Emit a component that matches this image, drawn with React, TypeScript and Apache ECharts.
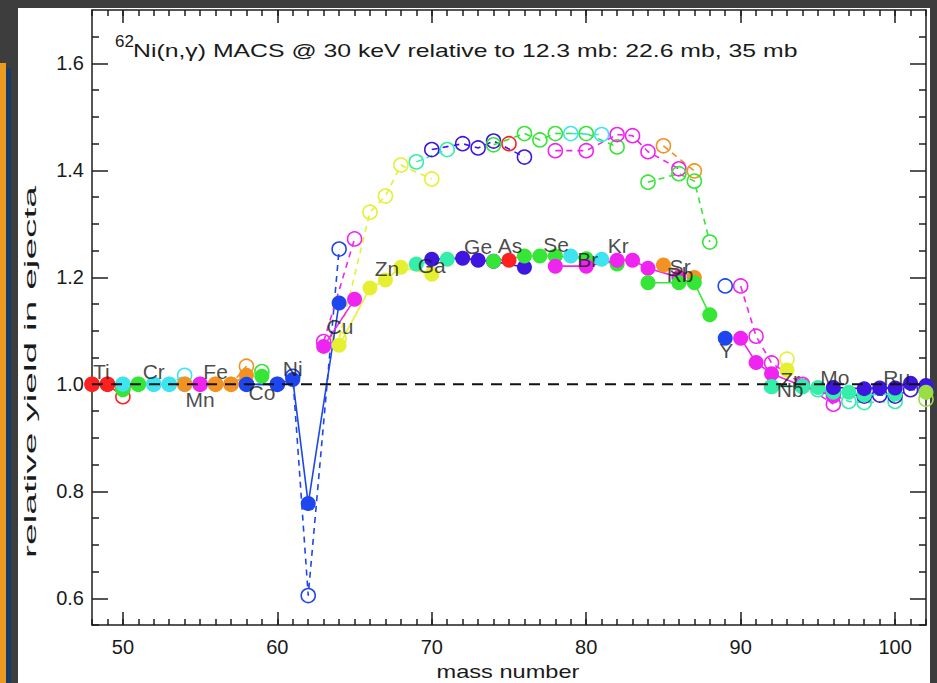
import React, { useEffect, useRef } from "react";
import * as echarts from "echarts";

// ---------- data ----------
const X_RANGE = [48, 102];
const Y_RANGE = [0.55, 1.7];
const X_MAJOR = [50, 60, 70, 80, 90, 100];
const Y_MAJOR = [0.6, 0.8, 1.0, 1.2, 1.4, 1.6];
const Y_MINOR = [0.55, 0.65, 0.7, 0.75, 0.85, 0.9, 0.95, 1.05, 1.1, 1.15, 1.25, 1.3, 1.35, 1.45, 1.5, 1.55, 1.65];
const BASELINE = 1.0;

const TITLE_MASS = "62";
const TITLE_TEXT = "Ni(n,\u03b3) MACS @ 30 keV relative to 12.3 mb: 22.6 mb, 35 mb";
const X_NAME = "mass number";
const Y_NAME = "relative yield in ejecta";

const ELEMENTS = ["Ti", "V", "Cr", "Mn", "Fe", "Co", "Ni", "Cu", "Zn", "Ga", "Ge", "As", "Se", "Br", "Kr", "Rb", "Sr", "Y", "Zr", "Nb", "Mo", "Ru", "Pd"];

const RED = "#ff2020";
const GREEN = "#36e636";
const CYAN = "#3ee4f0";
const MAGENTA = "#f024f0";
const ORANGE = "#f29222";
const BLUE = "#1e46ee";
const YELLOW = "#e6f032";
const AQUA = "#34eeaa";
const INDIGO = "#3e16e0";
const LIME = "#9ade44";

const ELEMENT_COLORS = [RED, GREEN, CYAN, MAGENTA, ORANGE, GREEN, BLUE, MAGENTA, YELLOW, AQUA, INDIGO, RED, GREEN, CYAN, MAGENTA, ORANGE, GREEN, BLUE, MAGENTA, YELLOW, AQUA, INDIGO, LIME];

const ISOTOPE_MASSES = [
  [48, 49, 50],
  [50, 51],
  [50, 52, 53, 54],
  [55],
  [54, 56, 57, 58],
  [59],
  [58, 60, 61, 62, 64],
  [63, 65],
  [64, 66, 67, 68, 70],
  [69, 71],
  [70, 72, 73, 74, 76],
  [75],
  [74, 76, 77, 78, 80, 82],
  [79, 81],
  [78, 80, 82, 83, 84, 86],
  [85, 87],
  [84, 86, 87, 88],
  [89],
  [90, 91, 92, 94, 96],
  [93],
  [92, 94, 95, 96, 97, 98, 100],
  [96, 98, 99, 100, 101, 102],
  [102, 104],
];

// filled symbols, solid lines: 22.6 mb
const YIELD_22_6MB = [
  [1.0, 1.0, 0.997],
  [0.99, 1.0],
  [1.0, 1.0, 1.0, 1.0],
  [1.0],
  [1.0, 1.0, 1.0, 1.017],
  [1.015],
  [1.0, 1.0, 1.009, 0.777, 1.152],
  [1.071, 1.159],
  [1.073, 1.18, 1.195, 1.219, 1.206],
  [1.225, 1.234],
  [1.234, 1.236, 1.232, 1.23, 1.219],
  [1.232],
  [1.23, 1.24, 1.24, 1.24, 1.235, 1.225],
  [1.24, 1.234],
  [1.221, 1.221, 1.232, 1.232, 1.217, 1.2],
  [1.223, 1.2],
  [1.19, 1.19, 1.19, 1.13],
  [1.086],
  [1.086, 1.041, 1.02, 0.997, 0.978],
  [1.027],
  [0.996, 0.996, 0.994, 0.985, 0.985, 0.98, 0.982],
  [0.994, 0.992, 0.993, 0.993, 1.002, 0.998],
  [0.985, 0.98],
];

// open symbols, dashed lines: 35 mb
const YIELD_35MB = [
  [1.0, 1.0, 0.977],
  [0.992, 1.0],
  [1.0, 1.0, 1.0, 1.017],
  [1.0],
  [1.0, 1.0, 1.0, 1.034],
  [1.024],
  [1.0, 1.0, 1.015, 0.605, 1.253],
  [1.08, 1.272],
  [1.085, 1.322, 1.352, 1.41, 1.384],
  [1.416, 1.439],
  [1.439, 1.45, 1.442, 1.455, 1.425],
  [1.45],
  [1.448, 1.469, 1.457, 1.469, 1.469, 1.444],
  [1.469, 1.467],
  [1.437, 1.437, 1.467, 1.465, 1.435, 1.403],
  [1.446, 1.399],
  [1.378, 1.394, 1.38, 1.266],
  [1.184],
  [1.184, 1.09, 1.04, 1.0, 0.963],
  [1.047],
  [0.996, 0.996, 0.99, 0.981, 0.968, 0.966, 0.968],
  [0.985, 0.978, 0.98, 0.978, 0.99, 0.99],
  [0.972, 0.97],
];

const LABEL_NAMES = ["Ti", "Cr", "Mn", "Fe", "Co", "Ni", "Cu", "Zn", "Ga", "Ge", "As", "Se", "Br", "Kr", "Sr", "Rb", "Y", "Zr", "Nb", "Mo", "Ru"];
const LABEL_MASS = [48.6, 52.0, 55.0, 56.0, 59.0, 61.0, 64.06, 67.1, 70.0, 73.0, 75.07, 78.05, 80.1, 82.07, 86.08, 86.08, 89.06, 93.2, 93.2, 96.1, 100.1];
const LABEL_YIELD = [1.024, 1.024, 0.972, 1.024, 0.985, 1.03, 1.109, 1.216, 1.223, 1.257, 1.259, 1.262, 1.234, 1.259, 1.221, 1.206, 1.064, 1.01, 0.99, 1.013, 1.013];

// ---------- style ----------
const FONT = "'Liberation Sans', Arial, Helvetica, sans-serif";
const AXIS = "#1e1e1e";
const TEXT = "#1a1a1a";

function measure(text: string, size: number): number {
  const ctx = document.createElement("canvas").getContext("2d");
  if (!ctx) return text.length * size * 0.5;
  ctx.font = `${size}px 'Liberation Sans', Arial, sans-serif`;
  return ctx.measureText(text).width;
}

export default function App() {
  const ref = useRef<HTMLDivElement>(null);

  useEffect(() => {
    if (!ref.current) return;
    const chart = echarts.init(ref.current, undefined, { renderer: "svg" });

    const xMinor: number[] = [];
    for (let m = Math.ceil(X_RANGE[0]); m <= X_RANGE[1]; m++) xMinor.push(m);

    const series: any[] = [];
    ELEMENTS.forEach((el, i) => {
      const color = ELEMENT_COLORS[i];
      const masses = ISOTOPE_MASSES[i];
      series.push({
        type: "line",
        name: el + " 35 mb",
        data: masses.map((m, j) => [m, YIELD_35MB[i][j]]),
        symbol: "circle",
        symbolSize: 14,
        showAllSymbol: true,
        itemStyle: { color: "rgba(255,255,255,0)", borderColor: color, borderWidth: 1.6 },
        lineStyle: { color, width: 1.6, type: [6, 5] },
        emphasis: { disabled: true },
        silent: true,
        z: 3,
      });
      series.push({
        type: "line",
        name: el + " 22.6 mb",
        data: masses.map((m, j) => [m, YIELD_22_6MB[i][j]]),
        symbol: "circle",
        symbolSize: 15,
        showAllSymbol: true,
        itemStyle: { color, borderWidth: 0 },
        lineStyle: { color, width: 1.6 },
        emphasis: { disabled: true },
        silent: true,
        z: 4,
      });
    });

    series.push({
      type: "line",
      name: "baseline",
      data: [[X_RANGE[0], BASELINE], [X_RANGE[1], BASELINE]],
      symbol: "none",
      lineStyle: { color: "#111", width: 2, type: [11, 8] },
      emphasis: { disabled: true },
      silent: true,
      z: 5,
    });

    series.push({
      type: "scatter",
      name: "labels",
      data: LABEL_NAMES.map((n, i) => ({ name: n, value: [LABEL_MASS[i], LABEL_YIELD[i]] })),
      symbolSize: 1,
      itemStyle: { color: "rgba(0,0,0,0)" },
      label: {
        show: true,
        position: "inside",
        formatter: "{b}",
        fontSize: 21,
        fontFamily: FONT,
        color: TEXT,
      },
      emphasis: { disabled: true },
      silent: true,
      z: 6,
    });

    const titleSize = 19;
    const titleScale = 665 / measure(TITLE_TEXT, titleSize);
    const xNameSize = 18;
    const xNameScale = 143 / measure(X_NAME, xNameSize);
    const yNameSize = 17;
    const yNameScale = 372 / measure(Y_NAME, yNameSize);

    const xAxisBase = {
      type: "value",
      min: X_RANGE[0],
      max: X_RANGE[1],
      splitLine: { show: false },
    };
    const yAxisBase = {
      type: "value",
      min: Y_RANGE[0],
      max: Y_RANGE[1],
      splitLine: { show: false },
    };
    const lineS = { color: AXIS, width: 1.5 };

    chart.setOption({
      animation: false,
      backgroundColor: "#3d3d3d",
      grid: { left: 92, right: 11, top: 10, bottom: 58, containLabel: false },
      xAxis: [
        {
          ...xAxisBase,
          position: "bottom",
          axisLine: { show: true, onZero: false, lineStyle: lineS },
          axisTick: { show: true, inside: true, length: 13, customValues: X_MAJOR, lineStyle: lineS },
          axisLabel: { show: true, customValues: X_MAJOR, fontSize: 20, fontFamily: FONT, color: TEXT, margin: 12 },
        },
        {
          ...xAxisBase,
          position: "bottom",
          axisLine: { show: false, onZero: false },
          axisTick: { show: true, inside: true, length: 6, customValues: xMinor, lineStyle: lineS },
          axisLabel: { show: false },
        },
        {
          ...xAxisBase,
          position: "top",
          axisLine: { show: true, onZero: false, lineStyle: lineS },
          axisTick: { show: true, inside: true, length: 13, customValues: X_MAJOR, lineStyle: lineS },
          axisLabel: { show: false },
        },
        {
          ...xAxisBase,
          position: "top",
          axisLine: { show: false, onZero: false },
          axisTick: { show: true, inside: true, length: 6, customValues: xMinor, lineStyle: lineS },
          axisLabel: { show: false },
        },
      ],
      yAxis: [
        {
          ...yAxisBase,
          position: "left",
          axisLine: { show: true, onZero: false, lineStyle: lineS },
          axisTick: { show: true, inside: true, length: 16, customValues: Y_MAJOR, lineStyle: lineS },
          axisLabel: {
            show: true,
            customValues: Y_MAJOR,
            fontSize: 20,
            fontFamily: FONT,
            color: TEXT,
            margin: 8,
            formatter: (v: number) => v.toFixed(1),
          },
        },
        {
          ...yAxisBase,
          position: "left",
          axisLine: { show: false, onZero: false },
          axisTick: { show: true, inside: true, length: 7, customValues: Y_MINOR, lineStyle: lineS },
          axisLabel: { show: false },
        },
        {
          ...yAxisBase,
          position: "right",
          axisLine: { show: true, onZero: false, lineStyle: lineS },
          axisTick: { show: true, inside: true, length: 16, customValues: Y_MAJOR, lineStyle: lineS },
          axisLabel: { show: false },
        },
        {
          ...yAxisBase,
          position: "right",
          axisLine: { show: false, onZero: false },
          axisTick: { show: true, inside: true, length: 7, customValues: Y_MINOR, lineStyle: lineS },
          axisLabel: { show: false },
        },
      ],
      graphic: [
        { type: "rect", z: -10, silent: true, shape: { x: 18, y: 8, width: 912, height: 680 }, style: { fill: "#ffffff" } },
        { type: "rect", z: -10, silent: true, shape: { x: 0, y: 63, width: 6, height: 630 }, style: { fill: "#ec9a20" } },
        { type: "rect", z: -10, silent: true, shape: { x: 6, y: 68, width: 5, height: 630 }, style: { fill: "#173a66" } },
        {
          type: "text",
          z: 10,
          silent: true,
          x: 115,
          y: 41,
          style: { text: TITLE_MASS, fontSize: 17, fontFamily: FONT, fill: TEXT, align: "left", verticalAlign: "middle", textAlign: "left", textVerticalAlign: "middle" },
        },
        {
          type: "text",
          z: 10,
          silent: true,
          x: 133,
          y: 51,
          scaleX: titleScale,
          style: { text: TITLE_TEXT, fontSize: titleSize, fontFamily: FONT, fill: TEXT, align: "left", verticalAlign: "middle", textAlign: "left", textVerticalAlign: "middle" },
        },
        {
          type: "text",
          z: 10,
          silent: true,
          x: 508,
          y: 672,
          scaleX: xNameScale,
          style: { text: X_NAME, fontSize: xNameSize, fontFamily: FONT, fill: TEXT, align: "center", verticalAlign: "middle", textAlign: "center", textVerticalAlign: "middle" },
        },
        {
          type: "text",
          z: 10,
          silent: true,
          x: 30,
          y: 372,
          rotation: Math.PI / 2,
          scaleX: yNameScale,
          style: { text: Y_NAME, fontSize: yNameSize, fontFamily: FONT, fill: TEXT, align: "center", verticalAlign: "middle", textAlign: "center", textVerticalAlign: "middle" },
        },
      ],
      series,
    });

    return () => chart.dispose();
  }, []);

  return (
    <div
      ref={ref}
      style={{ position: "fixed", left: 0, top: 0, width: 937, height: 683 }}
    />
  );
}
